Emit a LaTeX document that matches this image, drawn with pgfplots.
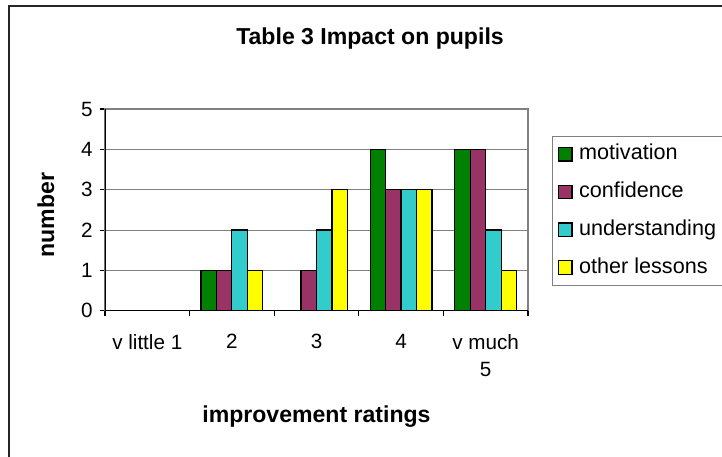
\documentclass[border=0pt]{standalone}
\usepackage{pgfplots}
\pgfplotsset{compat=1.18}
\usepackage{fontspec}
\setmainfont{Liberation Sans}
\definecolor{cmot}{HTML}{008000}
\definecolor{ccon}{HTML}{993366}
\definecolor{cund}{HTML}{33CCCC}
\definecolor{coth}{HTML}{FFFF00}
\definecolor{gridgray}{HTML}{808080}
\begin{document}
\begin{tikzpicture}
\path[use as bounding box] (0pt,0pt) rectangle (541.5pt,342.75pt);
\draw[line width=1.5pt, black!85] (6.75pt,0pt) -- (6.75pt,338.25pt) -- (541.5pt,338.25pt);
\begin{axis}[
  at={(78.75pt,109.7pt)}, anchor=south west,
  scale only axis, width=317.25pt, height=151.3pt,
  xmin=-0.5, xmax=4.5, ymin=0, ymax=5,
  ybar=0pt, bar width=11.6pt,
  xtick={-0.5,0.5,1.5,2.5,3.5,4.5},
  x tick label as interval,
  xticklabels={v little 1, 2, 3, 4, {v much\\5}},
  ytick={0,1,2,3,4,5},
  tick align=outside, xtick pos=bottom, ytick pos=left,
  major tick length=3.75pt,
  tick style={black, line width=0.8pt},
  axis line style={draw=gridgray, line width=0.8pt},
  ymajorgrids, grid style={gridgray, line width=0.8pt},
  /pgf/number format/assume math mode=true,
  tick label style={font=\fontsize{15.5}{20.5}\selectfont},
  xticklabel style={align=center, yshift=-10.5pt},
  yticklabel style={xshift=-2pt},
  title={Table 3 Impact on pupils},
  title style={at={(rel axis cs:0.6265,1.282)}, anchor=base, font=\fontsize{17.3}{20}\selectfont\bfseries},
  xlabel={improvement ratings},
  xlabel style={at={(rel axis cs:0.5,-0.555)}, anchor=base, font=\fontsize{17.3}{20}\selectfont\bfseries},
  ylabel={number},
  ylabel style={at={(rel axis cs:-0.140,0.4745)}, anchor=center, rotate=0, font=\fontsize{17.3}{20}\selectfont\bfseries},
  legend style={at={(rel axis cs:1.057,0.866)}, anchor=north west, draw=gridgray, line width=0.8pt,
    inner sep=4pt, row sep=9.8pt,
    nodes={inner sep=2pt, text height=11.5pt, text depth=3pt},
    /tikz/every odd column/.append style={column sep=3pt},
    font=\fontsize{16.2}{18}\selectfont},
  legend cell align=left,
  legend image code/.code={\draw[#1, draw=black, line width=0.9pt] (0pt,-5pt) rectangle (10pt,5pt);},
  every axis plot/.append style={draw=black, line width=0.9pt},
]
\addplot[fill=cmot] coordinates {(0,0) (1,1) (2,0) (3,4) (4,4)};
\addplot[fill=ccon] coordinates {(0,0) (1,1) (2,1) (3,3) (4,4)};
\addplot[fill=cund] coordinates {(0,0) (1,2) (2,2) (3,3) (4,2)};
\addplot[fill=coth] coordinates {(0,0) (1,1) (2,3) (3,3) (4,1)};
\legend{motivation, confidence, understanding, other lessons}
\draw[black, line width=1.1pt] (rel axis cs:0,1) -- (rel axis cs:0,0) -- (rel axis cs:1,0);
\end{axis}
\end{tikzpicture}
\end{document}
